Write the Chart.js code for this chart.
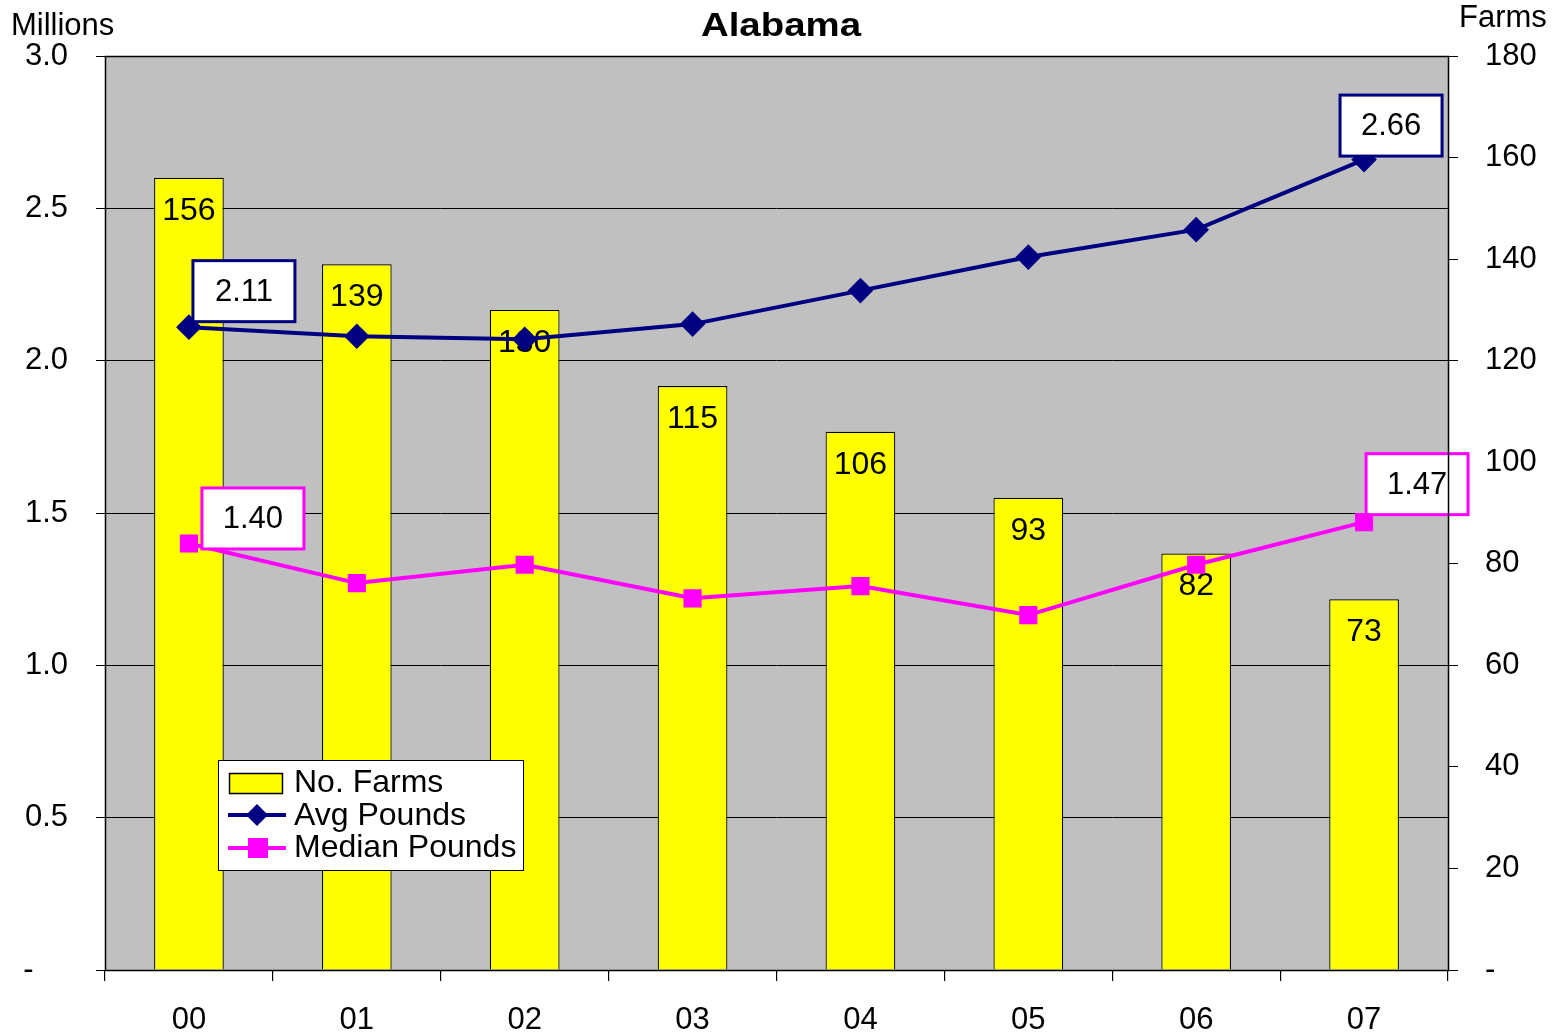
<!DOCTYPE html>
<html><head><meta charset="utf-8">
<script src="https://cdn.jsdelivr.net/npm/chart.js@4/dist/chart.umd.min.js"></script>
<style>html,body{margin:0;padding:0;background:#fff}#wrap{width:1566px;height:1032px}</style>
</head><body><div id="wrap"><canvas id="c" width="1566" height="1032"></canvas></div>
<script>
const categories = ['00','01','02','03','04','05','06','07'];
const farms = [156,139,130,115,106,93,82,73];
const avgPounds = [2.11,2.08,2.07,2.12,2.23,2.34,2.43,2.66];
const medianPounds = [1.40,1.27,1.33,1.22,1.26,1.165,1.33,1.47];
const leftTicks = [0,0.5,1.0,1.5,2.0,2.5,3.0];
const rightTicks = [0,20,40,60,80,100,120,140,160,180];

const FONT = '"Liberation Sans", Arial, sans-serif';

const bgPlugin = {
  id:'bg',
  beforeDraw(chart){
    const {ctx, chartArea:a} = chart;
    ctx.save();
    ctx.fillStyle='#C0C0C0';
    ctx.fillRect(a.left,a.top,a.right-a.left,a.bottom-a.top);
    ctx.restore();
  },
  afterDraw(chart){
    const {ctx, chartArea:a} = chart;
    ctx.save();
    ctx.strokeStyle='#000'; ctx.lineWidth=1.5;
    ctx.strokeRect(a.left+0.5,a.top+0.5,a.right-a.left,a.bottom-a.top);
    // titles
    ctx.fillStyle='#000';
    ctx.textBaseline='middle';
    ctx.save();
    ctx.translate(781, 27); ctx.scale(1.13,1);
    ctx.font='bold 34px '+FONT; ctx.textAlign='center';
    ctx.fillText('Alabama', 0, 0);
    ctx.restore();
    ctx.font='31px '+FONT; ctx.textAlign='left';
    ctx.fillText('Millions', 11, 26);
    ctx.fillText('Farms', 1459, 18);
    // legend
    const lx=218, ly=760, lw=305, lh=110;
    ctx.fillStyle='#fff'; ctx.fillRect(lx,ly,lw,lh);
    ctx.strokeStyle='#000'; ctx.lineWidth=1; ctx.strokeRect(lx+0.5,ly+0.5,lw,lh);
    ctx.font='32px '+FONT; ctx.fillStyle='#000'; ctx.textBaseline='middle';
    // bar swatch
    ctx.fillStyle='#FFFF00'; ctx.fillRect(229,773,53,20);
    ctx.strokeStyle='#000'; ctx.lineWidth=1.5; ctx.strokeRect(229.5,773.5,53,20);
    ctx.fillStyle='#000'; ctx.fillText(chart.data.datasets[0].label, 294, 783);
    // avg
    ctx.strokeStyle='#000080'; ctx.lineWidth=4; ctx.beginPath(); ctx.moveTo(228,815); ctx.lineTo(286,815); ctx.stroke();
    ctx.fillStyle='#000080'; ctx.beginPath(); ctx.moveTo(257,804);ctx.lineTo(268,815);ctx.lineTo(257,826);ctx.lineTo(246,815);ctx.closePath();ctx.fill();
    ctx.fillStyle='#000'; ctx.fillText(chart.data.datasets[1].label, 294, 816);
    // median
    ctx.strokeStyle='#FF00FF'; ctx.lineWidth=4; ctx.beginPath(); ctx.moveTo(228,848); ctx.lineTo(286,848); ctx.stroke();
    ctx.fillStyle='#FF00FF'; ctx.fillRect(248,838,20,20);
    ctx.fillStyle='#000'; ctx.fillText(chart.data.datasets[2].label, 294, 848);
    ctx.restore();
  }
};

const labelPlugin = {
  id:'labels',
  afterDatasetDraw(chart, args){
    if (args.index !== 0) return;
    const {ctx} = chart;
    ctx.save();
    ctx.font='32px '+FONT; ctx.fillStyle='#000'; ctx.textAlign='center'; ctx.textBaseline='middle';
    const barMeta = chart.getDatasetMeta(0);
    barMeta.data.forEach((b,i)=>{ ctx.fillText(String(farms[i]), b.x, b.y+33); });
    ctx.restore();
  },
  afterDatasetsDraw(chart){
    const {ctx} = chart;
    ctx.save();
    ctx.font='31px '+FONT; ctx.textAlign='center'; ctx.textBaseline='middle';
    const boxes = [
      {ds:1, i:0, dx:55, dy:-36, color:'#000080'},
      {ds:1, i:7, dx:27, dy:-34, color:'#000080'},
      {ds:2, i:0, dx:64, dy:-25, color:'#FF00FF'},
      {ds:2, i:7, dx:53, dy:-38, color:'#FF00FF'}
    ];
    boxes.forEach(o=>{
      const p = chart.getDatasetMeta(o.ds).data[o.i];
      const vals = o.ds===1?avgPounds:medianPounds;
      const cx = p.x+o.dx, cy = p.y+o.dy;
      const w=102,h=61;
      ctx.fillStyle='#fff'; ctx.fillRect(cx-w/2,cy-h/2,w,h);
      ctx.strokeStyle=o.color; ctx.lineWidth=3; ctx.strokeRect(cx-w/2,cy-h/2,w,h);
      ctx.fillStyle='#000'; ctx.fillText(vals[o.i].toFixed(2), cx, cy+1);
    });
    ctx.restore();
  }
};

new Chart(document.getElementById('c'), {
  data:{
    labels: categories,
    datasets:[
      {type:'bar', label:'No. Farms', data:farms, yAxisID:'y1', backgroundColor:'#FFFF00', borderColor:'#000', borderWidth:1.2, categoryPercentage:1, barPercentage:0.415, order:3},
      {type:'line', label:'Avg Pounds', data:avgPounds, yAxisID:'y', borderColor:'#000080', backgroundColor:'#000080', borderWidth:4, pointStyle:'rectRot', pointRadius:10, pointHoverRadius:10, tension:0, order:1},
      {type:'line', label:'Median Pounds', data:medianPounds, yAxisID:'y', borderColor:'#FF00FF', backgroundColor:'#FF00FF', borderWidth:4, pointStyle:'rect', pointRadius:10, pointHoverRadius:10, tension:0, order:2}
    ]
  },
  options:{
    responsive:false, animation:false, maintainAspectRatio:false,
    layout:{padding:{top:56,left:0,right:0,bottom:0}},
    plugins:{legend:{display:false}, title:{display:false}, tooltip:{enabled:false}},
    scales:{
      x:{
        offset:true,
        grid:{offset:true, drawOnChartArea:false, color:'#000', tickColor:'#000', tickLength:11, lineWidth:1.2},
        border:{display:false},
        ticks:{font:{family:FONT,size:31}, color:'#000', padding:21, maxRotation:0},
        afterFit(s){ s.height = 62; }
      },
      y:{
        position:'left', min:0, max:3,
        afterBuildTicks(s){ s.ticks = leftTicks.map(v=>({value:v})); },
        grid:{color:'#000', lineWidth:1, tickLength:9, tickColor:'#000'},
        border:{display:false},
        ticks:{font:{family:FONT,size:31}, color:'#000', padding:28, callback:v=> v===0 ? '-    ' : v.toFixed(1)},
        afterFit(s){ s.width = 105; }
      },
      y1:{
        position:'right', min:0, max:180,
        afterBuildTicks(s){ s.ticks = rightTicks.map(v=>({value:v})); },
        grid:{drawOnChartArea:false, color:'#000', lineWidth:1, tickLength:10, tickColor:'#000'},
        border:{display:false},
        ticks:{font:{family:FONT,size:31}, color:'#000', padding:27, callback:v=> v===0 ? '-' : String(v)},
        afterFit(s){ s.width = 118; }
      }
    }
  },
  plugins:[bgPlugin, labelPlugin]
});
</script></body></html>
